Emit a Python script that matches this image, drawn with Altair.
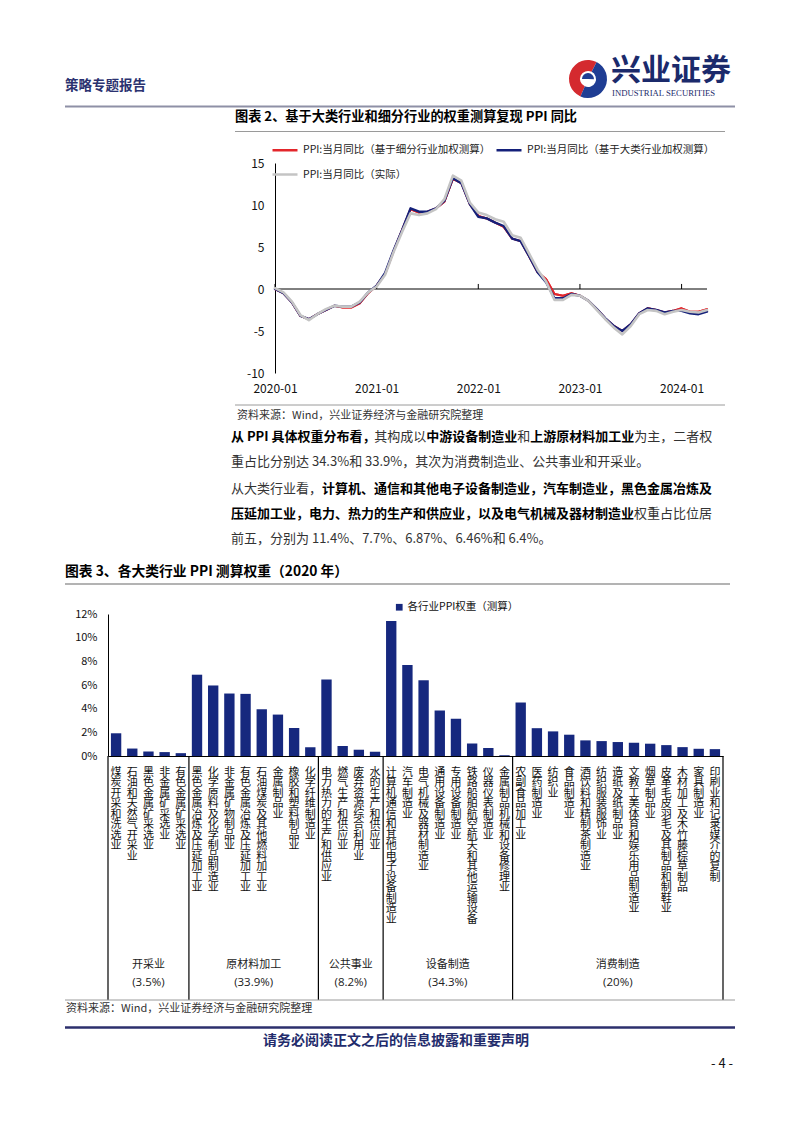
import altair as alt
import pandas as pd

FONT = "Noto Sans CJK SC"
NAVY_TXT = "#232c6c"
PAGE_W = 786

# ---------------- Chart 2 data (PPI yoy, %) ----------------
months = [f"{y}-{m:02d}" for y in range(2020, 2025) for m in range(1, 13)][:52]
ppi_detail = [0.0, -0.5, -1.6, -3.2, -3.6, -3.0, -2.5, -2.0, -2.2, -2.2, -1.7, -0.5,
              0.4, 1.8, 4.5, 7.0, 9.5, 9.1, 9.2, 9.6, 10.4, 13.1, 12.6, 10.1,
              8.7, 8.4, 7.9, 7.4, 6.0, 5.7, 3.9, 2.0, 1.2, -0.6, -0.8, -0.5,
              -0.8, -1.4, -2.4, -3.5, -4.4, -5.0, -4.2, -2.9, -2.3, -2.5, -2.8, -2.6,
              -2.3, -2.7, -2.7, -2.4]
ppi_major = [0.0, -0.5, -1.6, -3.2, -3.6, -3.0, -2.5, -2.0, -2.1, -2.1, -1.6, -0.4,
             0.4, 1.9, 4.6, 7.0, 9.6, 9.2, 9.2, 9.6, 10.5, 13.2, 12.6, 10.1,
             8.6, 8.4, 7.9, 7.5, 6.0, 5.7, 3.9, 2.0, 0.8, -1.1, -1.1, -0.6,
             -0.8, -1.4, -2.4, -3.5, -4.4, -5.0, -4.2, -2.9, -2.3, -2.5, -2.8, -2.6,
             -2.6, -2.9, -3.0, -2.7]
ppi_actual = [0.1, -0.4, -1.5, -3.1, -3.7, -3.0, -2.4, -2.0, -2.1, -2.1, -1.5, -0.4,
              0.3, 1.7, 4.4, 6.8, 9.0, 8.8, 9.0, 9.5, 10.7, 13.5, 12.9, 10.3,
              9.1, 8.8, 8.3, 8.0, 6.4, 6.1, 4.2, 2.3, 0.9, -1.3, -1.3, -0.7,
              -0.8, -1.4, -2.5, -3.6, -4.6, -5.4, -4.4, -3.0, -2.5, -2.6, -3.0, -2.7,
              -2.5, -2.7, -2.8, -2.5]
S_DETAIL = "PPI:当月同比（基于细分行业加权测算）"
S_MAJOR = "PPI:当月同比（基于大类行业加权测算）"
S_ACTUAL = "PPI:当月同比（实际）"
# legend is laid out column by column: [detail, actual] | [major]
legend_order = [S_DETAIL, S_ACTUAL, S_MAJOR]
legend_colors = ["#e3262b", "#c4c4c4", "#14207a"]
year_ticks = ["2020-01", "2021-01", "2022-01", "2023-01", "2024-01"]
line_y_ticks = [-10, -5, 0, 5, 10, 15]

# ---------------- Chart 3 data (weights, %) ----------------
group_names = ["开采业", "原材料加工", "公共事业", "设备制造", "消费制造"]
group_pcts = ["(3.5%)", "(33.9%)", "(8.2%)", "(34.3%)", "(20%)"]
group_sizes = [5, 8, 4, 8, 13]
industries = [
    "煤炭开采和洗选业", "石油和天然气开采业", "黑色金属矿采选业", "非金属矿采选业", "有色金属矿采选业",
    "黑色金属冶炼及压延加工业", "化学原料及化学制品制造业", "非金属矿物制品业", "有色金属冶炼及压延加工业",
    "石油、煤炭及其他燃料加工业", "金属制品业", "橡胶和塑料制品业", "化学纤维制造业",
    "电力、热力的生产和供应业", "燃气生产和供应业", "废弃资源综合利用业", "水的生产和供应业",
    "计算机、通信和其他电子设备制造业", "汽车制造业", "电气机械及器材制造业", "通用设备制造业",
    "专用设备制造业", "铁路、船舶、航空航天和其他运输设备", "仪器仪表制造业", "金属制品、机械和设备修理业",
    "农副食品加工业", "医药制造业", "纺织业", "食品制造业", "酒、饮料和精制茶制造业", "纺织服装、服饰业",
    "造纸及纸制品业", "文教、工美、体育和娱乐用品制造业", "烟草制品业", "皮革、毛皮、羽毛及其制品和制鞋业",
    "木材加工及木、竹、藤、棕、草制品", "家具制造业", "印刷业和记录媒介的复制",
]
weights = [1.92, 0.63, 0.38, 0.33, 0.24,
           6.87, 5.96, 5.28, 5.25, 3.95, 3.50, 2.37, 0.73,
           6.46, 0.85, 0.53, 0.36,
           11.40, 7.70, 6.40, 3.85, 3.15, 1.05, 0.68, 0.07,
           4.52, 2.35, 2.08, 1.80, 1.32, 1.26, 1.18, 1.12, 1.04, 0.92, 0.75, 0.61, 0.58]
bar_series = "各行业PPI权重（测算）"
bar_y_ticks = [0, 2, 4, 6, 8, 10, 12]

# ---------------- page texts ----------------
header_left = "策略专题报告"
logo_cn = "兴业证券"
logo_en = "INDUSTRIAL SECURITIES"
title2 = "图表 2、基于大类行业和细分行业的权重测算复现 PPI 同比"
title3 = "图表 3、各大类行业 PPI 测算权重（2020 年）"
source = "资料来源：Wind，兴业证券经济与金融研究院整理"
para_lines = [
    [("从 PPI 具体权重分布看，", True), ("其构成以", False), ("中游设备制造业", True), ("和", False),
     ("上游原材料加工业", True), ("为主，二者权", False)],
    [("重占比分别达 34.3%和 33.9%，其次为消费制造业、公共事业和开采业。", False)],
    [("从大类行业看，", False), ("计算机、通信和其他电子设备制造业，汽车制造业，黑色金属冶炼及", True)],
    [("压延加工业，电力、热力的生产和供应业，以及电气机械及器材制造业", True), ("权重占比位居", False)],
    [("前五，分别为 11.4%、7.7%、6.87%、6.46%和 6.4%。", False)],
]
footer_text = "请务必阅读正文之后的信息披露和重要声明"
page_no = "- 4 -"

ONE = pd.DataFrame({"k": [0]})


def est_width(s, fs, bold=False):
    w = 0.0
    for ch in s:
        if ord(ch) >= 0x2E80:
            w += 1.0
        elif ch == " ":
            w += 0.22
        elif ch == ".":
            w += 0.28
        elif ch == "%":
            w += 0.88
        elif ch.isdigit():
            w += 0.57 if bold else 0.555
        elif ch == "P":
            w += 0.64 if bold else 0.62
        elif ch == "I":
            w += 0.30 if bold else 0.27
        else:
            w += 0.55
    return w * fs


def txt(s, x, y, size=12, bold=False, color="#222", align="left", font=FONT):
    return alt.Chart(ONE).mark_text(
        text=s, align=align, baseline="middle", fontSize=size,
        fontWeight="bold" if bold else "normal", color=color, font=font
    ).encode(x=alt.value(x), y=alt.value(y))


def hline(x1, x2, y, color="#9a9a9a", w=1.0):
    return alt.Chart(ONE).mark_rule(color=color, strokeWidth=w).encode(
        x=alt.value(x1), x2=alt.value(x2), y=alt.value(y))


# ---------------- Row 1: header ----------------
R1_TOP = 8
def p1(x, y):
    return x - 8, y - R1_TOP

LOGO = p1(588, 79)
row1_layers = [
    txt(header_left, *p1(65, 86), size=13.5, bold=True, color="#2b3270"),
    alt.Chart(ONE).mark_arc(color="#d42a2f", theta=3.55, theta2=6.75, radius=19, radius2=8)
    .encode(x=alt.value(LOGO[0]), y=alt.value(LOGO[1])),
    alt.Chart(ONE).mark_arc(color="#1f3d93", theta=0.47, theta2=3.55, radius=19, radius2=8)
    .encode(x=alt.value(LOGO[0]), y=alt.value(LOGO[1])),
    alt.Chart(ONE).mark_arc(color="#1f3d93", theta=4.7, theta2=7.9, radius=6, radius2=0)
    .encode(x=alt.value(LOGO[0]), y=alt.value(LOGO[1])),
    txt(logo_cn, *p1(611, 71), size=30, bold=True, color="#1b2a6b"),
    txt(logo_en, *p1(612, 93), size=8.7, color="#1b2a6b", font="Liberation Serif"),
    hline(57, 727, 106.5 - R1_TOP, color="#8e90a6", w=2),
    txt(title2, *p1(235, 117), size=13.2, bold=True, color="#000"),
    hline(227, 717, 131.5 - R1_TOP, color="#9a9a9a", w=1),
]
row1 = alt.layer(*row1_layers).properties(width=PAGE_W, height=155)

# ---------------- Row 2: line chart ----------------
LX0, LX1 = 267, 699
line_df = pd.DataFrame({
    "month": months * 3,
    "series": [S_DETAIL] * len(months) + [S_MAJOR] * len(months) + [S_ACTUAL] * len(months),
    "value": ppi_detail + ppi_major + ppi_actual,
})
xs = alt.Scale(type="point", domain=months, range=[LX0, LX1], padding=0)
ys = alt.Scale(domain=[-10, 15], nice=False, zero=False)
x_axis = alt.Axis(values=year_ticks, title=None, domain=False, ticks=False, labelAngle=0,
                  labelAlign="center", labelBaseline="top",
                  labelPadding=10, labelFontSize=12, labelColor="#111", labelFont=FONT, grid=False)
y_axis = alt.Axis(values=line_y_ticks, title=None, offset=-LX0, ticks=False, domainColor="#000",
                  labelExpr="'' + datum.value", labelPadding=11, labelFontSize=12,
                  labelColor="#111", labelFont=FONT, grid=False, labelOverlap=False)
color_scale = alt.Scale(domain=legend_order, range=legend_colors)
legend2 = alt.Legend(orient="none", legendX=263, legendY=-27, columns=2, symbolType="stroke",
                     symbolSize=625, symbolStrokeWidth=2.5, labelFontSize=10.5, labelFont=FONT,
                     labelColor="#222", title=None, columnPadding=0, rowPadding=4.5, labelOffset=4,
                     labelLimit=0)


def series_layer(name, w):
    return alt.Chart(line_df).transform_filter(alt.datum.series == name).mark_line(
        strokeWidth=w, strokeJoin="round", strokeCap="round").encode(
        x=alt.X("month:O", scale=xs, axis=x_axis),
        y=alt.Y("value:Q", scale=ys, axis=y_axis),
        color=alt.Color("series:N", scale=color_scale, legend=legend2),
    )


zero_rule = alt.Chart(ONE).mark_rule(color="#000", strokeWidth=1).encode(
    x=alt.XDatum(months[0], type="ordinal"),
    x2=alt.X2Datum(months[-1]),
    y=alt.YDatum(0, type="quantitative"),
)
tick_rule = alt.Chart(pd.DataFrame({"month": year_ticks})).mark_rule(color="#000", strokeWidth=1).encode(
    x=alt.X("month:O"),
    y=alt.YDatum(0, type="quantitative"),
    y2=alt.Y2Datum(0.6),
)

row2 = alt.layer(
    series_layer(S_DETAIL, 2.0),
    zero_rule, tick_rule,
    series_layer(S_DETAIL, 2.0),
    series_layer(S_MAJOR, 2.4),
    series_layer(S_ACTUAL, 2.6),
).properties(width=PAGE_W, height=210)

# ---------------- Row 3: text block ----------------
R3_TOP = 373
def p3(x, y):
    return x - 8, y - R3_TOP

row3_layers = [
    hline(227, 717, 405 - R3_TOP),
    txt(source, *p3(237, 416), size=11, color="#333"),
]
PFS = 13.0
for yy, segs in zip([437, 462, 489, 514, 539], para_lines):
    cx = 231
    for s, b in segs:
        row3_layers.append(txt(s, *p3(cx, yy), size=PFS, bold=b, color="#000" if b else "#333"))
        cx += est_width(s, PFS, b)
row3_layers += [
    txt(title3, *p3(65, 572), size=13.8, bold=True, color="#000"),
    hline(57, 722, 584 - R3_TOP, color="#9a9a9a", w=1.5),
]
row3 = alt.layer(*row3_layers).properties(width=PAGE_W, height=241)

# ---------------- Row 4: bar chart ----------------
BX0, BX1 = 100, 715
R4_TOP = 614
BAR_H = 142
bar_df = pd.DataFrame({"industry": industries, "weight": weights, "series": bar_series})
bar_x = alt.X("industry:N", sort=industries,
              scale=alt.Scale(range=[BX0, BX1], paddingInner=0, paddingOuter=0),
              axis=alt.Axis(title=None, domainColor="#000", ticks=False, labelAngle=0,
                            labelAlign="center", labelBaseline="top", labelPadding=10,
                            labelExpr="split(replace(datum.label, regexp('、', 'g'), '　'), '')",
                            labelLineHeight=10.5, labelFontSize=11, labelFont=FONT,
                            labelColor="#111", labelOverlap=False, labelBound=False,
                            labelLimit=0, grid=False))
bar_ys = alt.Scale(domain=[0, 12], nice=False)
bar_y = alt.Y("weight:Q", scale=bar_ys,
              axis=alt.Axis(values=bar_y_ticks, tickCount=7, offset=-BX0, title=None, ticks=False,
                            domainColor="#000", labelExpr="datum.value + '%'", labelPadding=11,
                            labelFontSize=11, labelFont=FONT, labelColor="#111", grid=False,
                            labelOverlap=False))
bars = alt.Chart(bar_df).mark_bar(color="#16287e", width=alt.RelativeBandSize(0.64)).encode(
    x=bar_x, y=bar_y,
    color=alt.Color("series:N", scale=alt.Scale(domain=[bar_series], range=["#16287e"]),
                    legend=alt.Legend(orient="none", legendX=386, legendY=-12, title=None,
                                      symbolType="square", symbolSize=45, labelFontSize=10.5,
                                      labelFont=FONT, labelOffset=3, labelColor="#111",
                                      labelLimit=0)),
)
cum = [0]
for n in group_sizes:
    cum.append(cum[-1] + n)
qx = alt.Scale(domain=[0, len(industries)], range=[BX0, BX1], nice=False, zero=False)
dividers = alt.Chart(pd.DataFrame({"pos": cum})).mark_rule(color="#000", strokeWidth=1.2).encode(
    x=alt.X("pos:Q", scale=qx, axis=None),
    y=alt.value(BAR_H),
    y2=alt.value(1000 - R4_TOP),
)
grp_df = pd.DataFrame({
    "center": [cum[i] + group_sizes[i] / 2 for i in range(len(group_sizes))],
    "name": group_names, "pct": group_pcts,
})
grp_name = alt.Chart(grp_df).mark_text(fontSize=11, font=FONT, color="#222", baseline="middle").encode(
    x=alt.X("center:Q", scale=qx, axis=None), y=alt.value(965 - R4_TOP), text="name:N")
grp_pct = alt.Chart(grp_df).mark_text(fontSize=11.5, font="Open Sans", color="#222", baseline="middle").encode(
    x=alt.X("center:Q", scale=qx, axis=None), y=alt.value(983 - R4_TOP), text="pct:N")
row4 = alt.layer(bars, dividers, grp_name, grp_pct).resolve_scale(x="independent").properties(
    width=PAGE_W, height=BAR_H)

# ---------------- Row 5: footer ----------------
R5_TOP = 756
def p5(x, y):
    return x - 8, y - R5_TOP

row5_layers = [
    hline(57, 727, 1000 - R5_TOP),
    txt(source, *p5(66, 1009), size=11, color="#333"),
    hline(57, 727, 1027.5 - R5_TOP, color="#2c2f6c", w=2.5),
    txt(footer_text, *p5(396, 1041), size=14, bold=True, color=NAVY_TXT, align="center"),
    txt(page_no, *p5(722, 1064), size=13, color="#111", align="center"),
]
row5 = alt.layer(*row5_layers).properties(width=PAGE_W, height=369)

chart = alt.vconcat(row1, row2, row3, row4, row5, spacing=0, bounds="flush").resolve_scale(
    color="independent"
).resolve_legend(color="independent").properties(
    padding=0
).configure(font=FONT).configure_view(stroke=None)

chart.save("out.html", embed_options={"renderer": "svg", "actions": False})
